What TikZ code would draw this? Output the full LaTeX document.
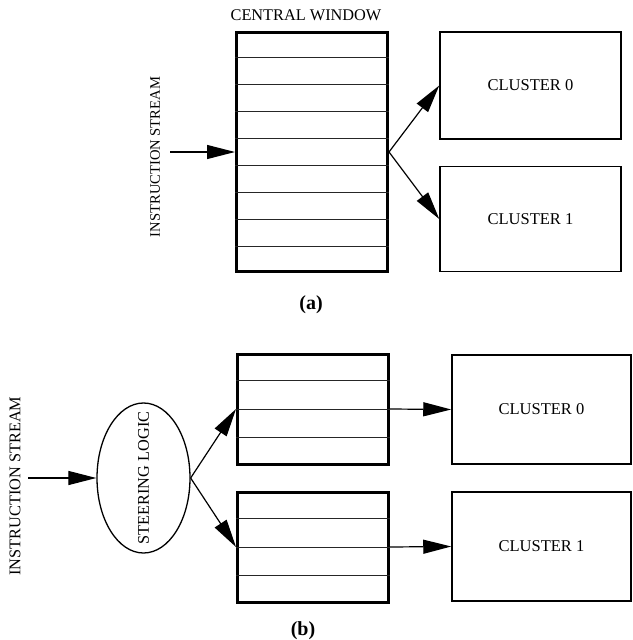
\documentclass[tikz,border=0pt]{standalone}
\usepackage{fontspec}
\setmainfont{Liberation Serif}
\usetikzlibrary{arrows.meta}
\usetikzlibrary{calc}
\usetikzlibrary{shapes.geometric}
\tikzset{x=1pt, y=-1pt,
winbox/.style={ % Sets the properties for the buffer windows
draw, line width=3pt, minimum width=151pt, inner sep=0pt},
rowline/.style={line width=1pt, black!85},
clusterbox/.style={ % Cluster boxes
draw, line width=1.5pt, inner sep=0pt,
font=\fontsize{16.5}{18}\selectfont},
steerell/.style={draw, ellipse, line width=1.3pt, inner sep=0pt,
minimum width=93pt, minimum height=150pt},
lbl/.style={inner sep=0pt, font=\fontsize{16.3}{18}\selectfont},
subcap/.style={inner sep=0pt, font=\fontsize{20}{22}\selectfont\bfseries},
flow/.style={ % Makes edges directed with big filled heads
draw, line width=1.2pt,
-{Triangle[length=28pt, width=14pt]}}}

\begin{document}
\begin{tikzpicture}
\useasboundingbox (0,0) rectangle (632,640);
% (a) central window
\node[winbox, minimum height=239pt] (cwin) at (312,152) {};
\foreach \i in {1,...,8}
  \draw[rowline] ($(cwin.north west)!\i/9!(cwin.south west)$) -- ($(cwin.north east)!\i/9!(cwin.south east)$);
\node[lbl] (cwinlbl) at (306,15) {CENTRAL WINDOW};
\node[lbl, rotate=90, font=\fontsize{14.6}{16}\selectfont] (insa) at (155,157) {INSTRUCTION STREAM};
\coordinate (ina) at (170,152);
\node[clusterbox, minimum width=181pt, minimum height=107pt] (cl0a) at (530.5,85.5) {CLUSTER 0};
\node[clusterbox, minimum width=181pt, minimum height=105pt] (cl1a) at (530.5,219) {CLUSTER 1};
\draw[flow] (ina) -- (cwin.west);
\draw[flow] (cwin.east) -- (cl0a.west);
\draw[flow] (cwin.east) -- (cl1a.west);
\node[subcap] (capa) at (311,305) {(a)};
% (b) steering logic
\node[lbl, rotate=90] (insb) at (15,486) {INSTRUCTION STREAM};
\coordinate (inb) at (28,478);
\node[steerell, label={[lbl, rotate=90]center:STEERING LOGIC}] (steer) at (143.5,478) {};
\node[winbox, minimum height=110pt] (buf0) at (313,409) {};
\node[winbox, minimum height=110pt] (buf1) at (313,547) {};
\foreach \b in {buf0,buf1}
  \foreach \i in {1,2,3}
    \draw[rowline] ($(\b.north west)!\i/4!(\b.south west)$) -- ($(\b.north east)!\i/4!(\b.south east)$);
\node[clusterbox, minimum width=179pt, minimum height=109pt] (cl0b) at (541.5,409.5) {CLUSTER 0};
\node[clusterbox, minimum width=179pt, minimum height=109pt] (cl1b) at (541.5,546.5) {CLUSTER 1};
\draw[flow] (inb) -- (steer.west);
\draw[flow] (steer.east) -- (buf0.west);
\draw[flow] (steer.east) -- (buf1.west);
\draw[flow] (buf0.east) -- (cl0b.west);
\draw[flow] (buf1.east) -- (cl1b.west);
\node[subcap] (capb) at (303,631) {(b)};
\end{tikzpicture}
\end{document}
